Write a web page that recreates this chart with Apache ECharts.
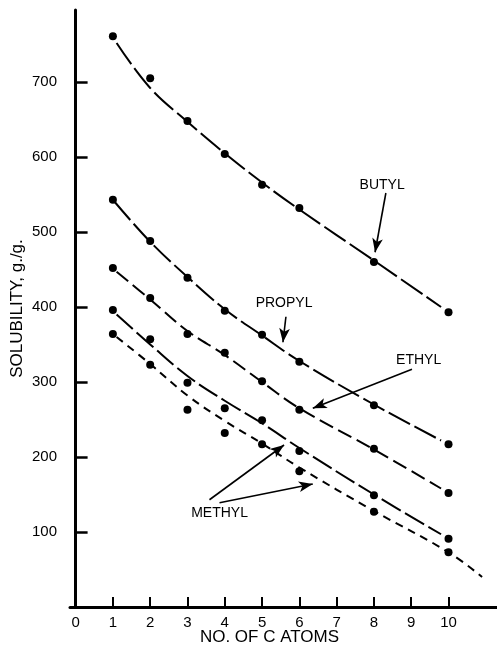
<!DOCTYPE html>
<html>
<head>
<meta charset="utf-8">
<script src="https://cdn.jsdelivr.net/npm/echarts@6/dist/echarts.min.js"></script>
<style>
  html, body { margin: 0; padding: 0; background: #fff; }
  #chart { width: 497px; height: 651px; }
</style>
</head>
<body>
<div id="chart"></div>
<script>
// measured points (x = number of C atoms)
const atoms = [1, 2, 3, 4, 5, 6, 8, 10];
const butyl = [761, 705, 648, 604, 563, 532, 460, 393];
const propyl = [543, 488, 439, 395, 363, 327, 269, 217];
const ethyl = [452, 412, 364, 339, 301, 263, 211, 152];
const methylA = [396, 357, 299, 265, 249, 208, 149, 91];
const methylB = [364, 323, 263, 232, 217, 181, 127, 73];

// drawn curves
const butylCurveX = [1.1, 2, 3, 4, 5, 6, 8, 9.8];
const butylCurve = [752, 692, 647, 605, 566, 530, 462, 400];
const propylCurveX = [1.05, 2, 3, 4, 5, 6, 8, 9.8];
const propylCurve = [540, 487, 440, 397, 362, 328, 270, 222];
const ethylCurveX = [1.1, 2, 3, 4, 5, 6, 8, 9.8];
const ethylCurve = [447, 410, 368, 336, 300, 265, 210, 158];
const methylACurveX = [1.1, 2, 3, 4, 5, 6, 8, 9.8];
const methylACurve = [390, 350, 308, 275, 245, 212, 150, 97];
const methylBCurveX = [1.1, 2, 3, 4, 5, 6, 8, 10, 10.9];
const methylBCurve = [360, 324, 282, 248, 218, 186, 128, 73, 40];

const yTicks = [100, 200, 300, 400, 500, 600, 700];
const xTicks = [0, 1, 2, 3, 4, 5, 6, 7, 8, 9, 10];

// annotations: [label, text x, text y, arrow from x, from y, to x, to y]
const notes = [
  ['BUTYL', 8.22, 563, 8.32, 552, 8.03, 473],
  ['PROPYL', 5.59, 405, 5.64, 387, 5.56, 353],
  ['ETHYL', 9.2, 329, 9.02, 317, 6.36, 265],
  ['METHYL', 3.86, 125, 3.59, 143, 5.59, 216],
  ['', 0, 0, 3.86, 139, 6.36, 164]
];

const font = '"Liberation Sans", Arial, sans-serif';
const ink = '#000';

function pairs(xs, ys) { return xs.map((x, i) => [x, ys[i]]); }

function curve(name, xs, ys, dash) {
  return {
    name: name, type: 'line', data: pairs(xs, ys), smooth: 0.4,
    showSymbol: false, silent: true,
    lineStyle: { color: ink, width: 2, type: dash }
  };
}

function dots(name, ys) {
  return {
    name: name, type: 'scatter', data: pairs(atoms, ys),
    symbol: 'circle', symbolSize: 8, silent: true,
    itemStyle: { color: ink, opacity: 1 }
  };
}

const chart = echarts.init(document.getElementById('chart'));

const series = [
  curve('butyl', butylCurveX, butylCurve, [26, 5]),
  curve('propyl', propylCurveX, propylCurve, [24, 5]),
  curve('ethyl', ethylCurveX, ethylCurve, [15, 6]),
  curve('methylA', methylACurveX, methylACurve, [22, 5]),
  curve('methylB', methylBCurveX, methylBCurve, [8, 6]),
  dots('butyl pts', butyl),
  dots('propyl pts', propyl),
  dots('ethyl pts', ethyl),
  dots('methylA pts', methylA),
  dots('methylB pts', methylB),
  {
    type: 'scatter', data: [], silent: true,
    markLine: {
      silent: true, animation: false,
      symbol: ['none', 'arrow'], symbolSize: [8, 14],
      lineStyle: { color: ink, width: 1.6, type: 'solid' },
      label: { show: false },
      data: notes.map(n => [{ coord: [n[3], n[4]] }, { coord: [n[5], n[6]] }])
    },
    markPoint: {
      silent: true, animation: false,
      symbol: 'circle', symbolSize: 0,
      label: {
        show: true, position: 'inside', color: ink,
        fontFamily: font, fontSize: 14, formatter: p => p.name
      },
      data: notes.filter(n => n[0]).map(n => ({ name: n[0], coord: [n[1], n[2]] }))
    }
  }
];

chart.setOption({
  animation: false,
  backgroundColor: '#fff',
  grid: { left: 70, right: 0, top: 10, bottom: 44, containLabel: false, outerBoundsMode: 'none' },
  xAxis: {
    type: 'value', min: -0.15, max: 11.3,
    name: 'NO. OF C ATOMS', nameLocation: 'middle', nameGap: 22, nameMoveOverlap: false,
    nameTextStyle: { color: ink, fontFamily: font, fontSize: 17, padding: [0, 28, 0, 0] },
    axisLine: { show: true, lineStyle: { color: ink, width: 3 } },
    axisTick: { show: true, inside: true, length: 10, lineStyle: { color: ink, width: 2 },
      customValues: xTicks.slice(1) },
    axisLabel: { color: ink, fontFamily: font, fontSize: 15, margin: 8,
      customValues: xTicks },
    splitLine: { show: false }
  },
  yAxis: {
    type: 'value', min: 0, max: 796, interval: 100,
    name: 'SOLUBILITY, g./g.', nameLocation: 'middle', nameGap: 44, nameRotate: 90,
    nameMoveOverlap: false,
    nameTextStyle: { color: ink, fontFamily: font, fontSize: 17 },
    axisLine: { show: true, lineStyle: { color: ink, width: 3 } },
    axisTick: { show: true, inside: true, length: 12, lineStyle: { color: ink, width: 2.5 },
      customValues: yTicks },
    axisLabel: { color: ink, fontFamily: font, fontSize: 15, margin: 13,
      customValues: yTicks },
    splitLine: { show: false }
  },
  series: series
});
</script>
</body>
</html>
